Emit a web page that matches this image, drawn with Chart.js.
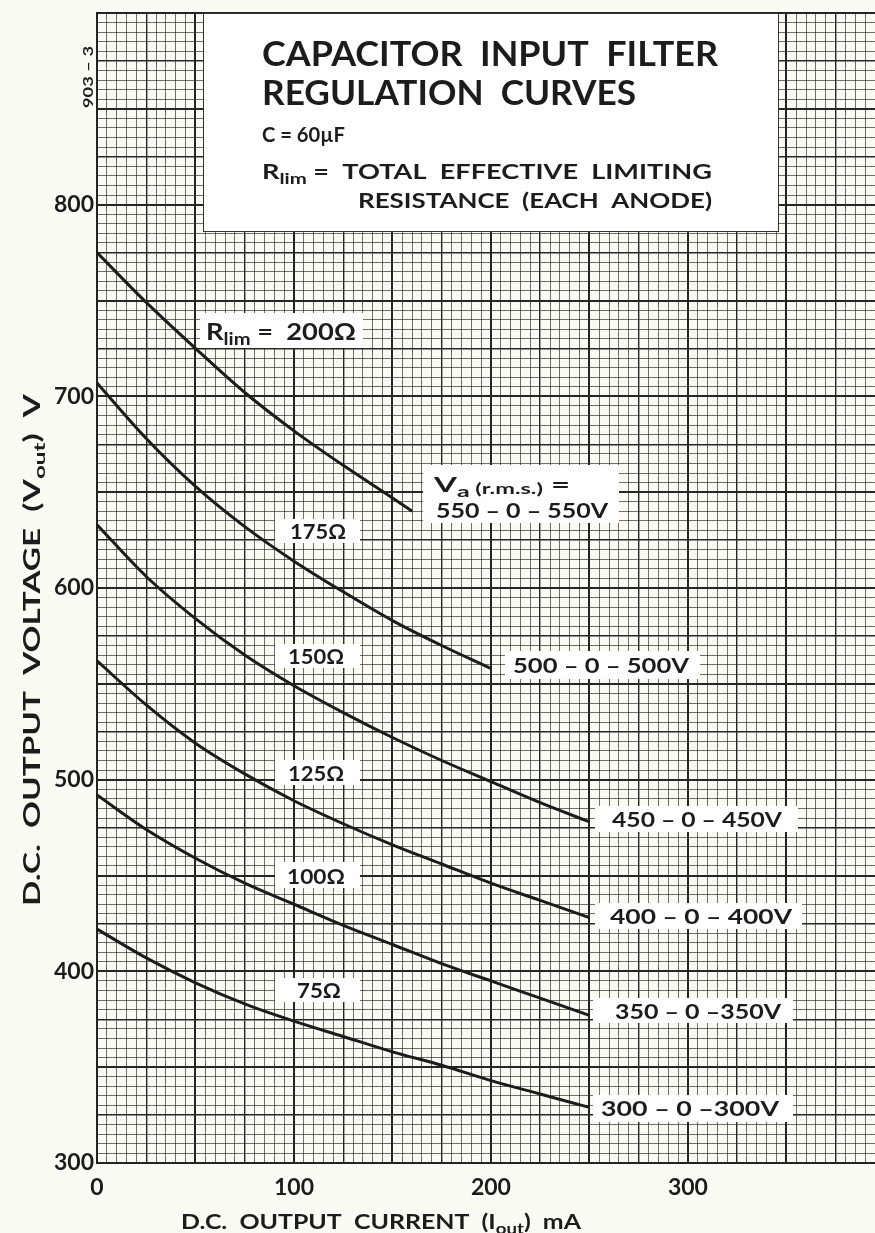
<!DOCTYPE html>
<html><head><meta charset="utf-8">
<script src="https://cdn.jsdelivr.net/npm/chart.js@4"></script>
<style>html,body{margin:0;padding:0;background:#fcfbf3;}#wrap{width:875px;height:1233px;position:relative;}</style>
</head><body><div id="wrap"><canvas id="c" width="875" height="1233"></canvas></div>
<script>
// ---- data ----
const currentMA = [0, 25, 50, 75, 100, 125, 150, 175, 200, 225, 250];
const current200 = [0, 25, 50, 75, 100, 125, 150, 160];
const v550 = [775, 749, 725, 702, 682, 664, 647, 640];           // Rlim 200 ohm
const v500 = [707, 678, 653, 632, 614, 598, 583, 570, 558];      // Rlim 175 ohm
const v450 = [633, 606, 584, 565, 549, 535, 522, 510, 499, 488, 478]; // 150 ohm
const v400 = [562, 539, 519, 503, 489, 477, 466, 456, 446, 437, 428]; // 125 ohm
const v350 = [492, 474, 459, 446, 435, 424, 414, 404, 395, 386, 377]; // 100 ohm
const v300 = [422, 407, 394, 383, 374, 366, 358, 351, 343, 336, 329]; // 75 ohm
const xTickLabels = [0, 100, 200, 300];
const yTickLabels = [300, 400, 500, 600, 700, 800];

const FONT = 'Lato, "DejaVu Sans", sans-serif';
const INK = '#1c1c1c';

function pts(xs, ys) { return ys.map((v, i) => ({x: xs[i], y: v})); }
function series(xs, ys) {
  return {data: pts(xs, ys), borderColor: INK, borderWidth: 3, pointRadius: 0,
          showLine: true, fill: false, cubicInterpolationMode: 'monotone'};
}

function gridWidth(ctx) {
  const v = ctx.tick ? ctx.tick.value : 0;
  if (v % 50 === 0) return 2;
  if (v % 25 === 0) return 1.4;
  return 0.9;
}
function gridColor(ctx) {
  const v = ctx.tick ? ctx.tick.value : 0;
  if (v % 25 === 0) return '#262626';
  return 'rgba(40,40,40,0.75)';
}

// rich text: segs = [[text, size, dy]]
function rich(ctx, segs, x, y, w, rot) {
  let total = 0;
  segs.forEach(s => { ctx.font = `bold ${s[1]}px ${FONT}`; total += ctx.measureText(s[0]).width; });
  const k = w ? w / total : 1;
  ctx.save();
  ctx.translate(x, y);
  if (rot) ctx.rotate(rot);
  ctx.scale(k, 1);
  ctx.textAlign = 'left';
  ctx.textBaseline = 'alphabetic';
  ctx.fillStyle = INK;
  let cx = 0;
  segs.forEach(s => { ctx.font = `bold ${s[1]}px ${FONT}`; ctx.fillText(s[0], cx, s[2] || 0); cx += ctx.measureText(s[0]).width; });
  ctx.restore();
}
function box(ctx, x0, y0, x1, y1, stroke) {
  ctx.save();
  ctx.fillStyle = '#ffffff';
  ctx.fillRect(x0, y0, x1 - x0, y1 - y0);
  if (stroke) { ctx.strokeStyle = '#333'; ctx.lineWidth = 1; ctx.strokeRect(x0 + 0.5, y0 + 0.5, x1 - x0 - 1, y1 - y0 - 1); }
  ctx.restore();
}

const annotations = {
  id: 'annotations',
  afterDatasetsDraw(chart) {
    const ctx = chart.ctx;
    // title block
    box(ctx, 203, 13, 779, 232, true);
    rich(ctx, [['CAPACITOR  INPUT  FILTER', 34]], 262, 66, 456);
    rich(ctx, [['REGULATION  CURVES', 34]], 262, 105, 374);
    rich(ctx, [['C = 60\u00b5F', 20]], 262, 142, 83);
    rich(ctx, [['R', 20], ['lim', 15, 5], [' =  TOTAL  EFFECTIVE  LIMITING', 20]], 262, 179, 450);
    rich(ctx, [['RESISTANCE  (EACH  ANODE)', 20]], 358, 208, 354);

    // curve labels
    box(ctx, 200, 313, 363, 348);
    rich(ctx, [['R', 23], ['lim', 17, 5], [' =  200\u03a9', 23]], 206, 340, 150);
    box(ctx, 423, 465, 619, 523);
    rich(ctx, [['V', 21], ['a', 16, 5], [' (r.m.s.)', 15, 2], [' =', 21]], 434, 492, 136);
    rich(ctx, [['550 \u2013 0 \u2013 550V', 21]], 436, 518, 172);

    box(ctx, 275, 519, 360, 543);
    rich(ctx, [['175\u03a9', 20]], 290, 539, 56);
    box(ctx, 275, 644, 360, 668);
    rich(ctx, [['150\u03a9', 20]], 288, 664, 56);
    box(ctx, 275, 760, 360, 785);
    rich(ctx, [['125\u03a9', 20]], 288, 781, 56);
    box(ctx, 275, 862, 360, 888);
    rich(ctx, [['100\u03a9', 20]], 287, 884, 58);
    box(ctx, 275, 978, 360, 1002);
    rich(ctx, [['75\u03a9', 20]], 297, 998, 44);

    box(ctx, 505, 651, 700, 679);
    rich(ctx, [['500 \u2013 0 \u2013 500V', 21]], 513, 673, 176);
    box(ctx, 595, 806, 798, 832);
    rich(ctx, [['450 \u2013 0 \u2013 450V', 21]], 612, 827, 170);
    box(ctx, 595, 903, 802, 929);
    rich(ctx, [['400 \u2013 0 \u2013 400V', 21]], 610, 924, 182);
    box(ctx, 593, 998, 793, 1023);
    rich(ctx, [['350 \u2013 0 \u2013350V', 21]], 615, 1019, 166);
    box(ctx, 593, 1095, 793, 1122);
    rich(ctx, [['300 \u2013 0 \u2013300V', 21]], 601, 1116, 178);

    // axis titles
    rich(ctx, [['D.C.  OUTPUT  VOLTAGE  (V', 22], ['out', 16, 5], [')  V', 22]], 40, 906, 512, -Math.PI / 2);
    rich(ctx, [['D.C.  OUTPUT  CURRENT  (I', 20], ['out', 15, 5], [')  mA', 20]], 181, 1229, 400);
    rich(ctx, [['903 \u2013 3', 13]], 93, 108, 62, -Math.PI / 2);
  }
};

new Chart(document.getElementById('c'), {
  type: 'scatter',
  data: {
    datasets: [
      series(current200, v550),
      series(currentMA, v500),
      series(currentMA, v450),
      series(currentMA, v400),
      series(currentMA, v350),
      series(currentMA, v300)
    ]
  },
  options: {
    responsive: false,
    animation: false,
    devicePixelRatio: 1,
    layout: {padding: {top: 13, right: 0, left: 0, bottom: 0}},
    plugins: {legend: {display: false}, tooltip: {enabled: false}},
    scales: {
      x: {
        type: 'linear', min: 0, max: 395,
        afterFit(s) { s.height = 70; s.paddingRight = 0; s.paddingLeft = 0; },
        ticks: {stepSize: 5, autoSkip: false, maxRotation: 0, padding: 11, color: INK,
                font: {family: FONT, size: 23, weight: 'bold'},
                callback: v => xTickLabels.includes(v) ? String(v) : ''},
        grid: {color: gridColor, lineWidth: gridWidth, drawTicks: false},
        border: {display: true, color: '#222', width: 2}
      },
      y: {
        type: 'linear', min: 300, max: 900,
        afterFit(s) { s.width = 97; s.paddingTop = 0; s.paddingBottom = 0; },
        ticks: {stepSize: 5, autoSkip: false, padding: 3, color: INK,
                font: {family: FONT, size: 23, weight: 'bold'},
                callback: v => yTickLabels.includes(v) ? String(v) : ''},
        grid: {color: gridColor, lineWidth: gridWidth, drawTicks: false},
        border: {display: true, color: '#222', width: 2}
      }
    }
  },
  plugins: [annotations]
});
</script></body></html>
